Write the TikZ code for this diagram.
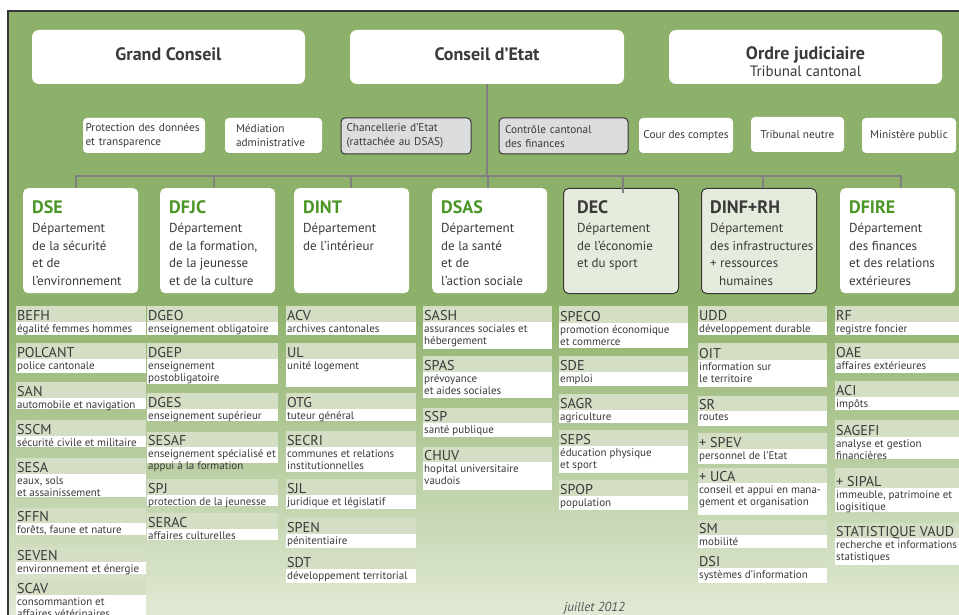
\documentclass[tikz,border=0pt]{standalone}
\usepackage{fontspec}
\setmainfont{PT Sans}
\definecolor{bggreen}{RGB}{141,177,106}
\definecolor{bglight}{RGB}{229,236,218}
\definecolor{unithead}{RGB}{211,222,196}
\definecolor{txt}{RGB}{58,58,58}
\definecolor{deptgreen}{RGB}{74,150,38}
\definecolor{grayfill}{RGB}{220,221,222}
\definecolor{decfill}{RGB}{229,235,221}
\definecolor{linegray}{RGB}{128,128,128}
\definecolor{framecol}{RGB}{55,55,55}
\definecolor{datecol}{RGB}{85,85,85}
\newcommand\unitbox[8]{%
  \node[uhead, minimum width=#3*1pt, minimum height={(#5-#4)*1pt}] (#1h) at (#2,#4) {};
  \node[uwhite, minimum width=#3*1pt, minimum height={(#6-#5)*1pt}] (#1w) at (#2,#5) {};
  \node[unittitle] (#1t) at (#2+1,#5-1.5) {#7};
  \node[unitdesc] (#1d) at (#2+1,#5+2.2) {#8};
}
\begin{document}
\begin{tikzpicture}[x=1pt,y=-1pt,
  topbox/.style={fill=white, rounded corners=7pt, minimum height=54pt, inner sep=0pt},
  toptext/.style={anchor=base, inner sep=0pt, text=txt, font=\bfseries\fontsize{18}{20}\selectfont},
  smallbox/.style={fill=white, rounded corners=4pt, minimum height=35pt, inner sep=0pt, text=txt, align=left, font=\fontsize{11.3}{14}\selectfont},
  graybox/.style={smallbox, fill=grayfill, draw=framecol, line width=1pt, minimum height=36pt},
  deptbox/.style={fill=white, rounded corners=5pt, minimum width=115pt, minimum height=105pt, anchor=north west, inner sep=0pt},
  decbox/.style={deptbox, fill=decfill, draw=framecol, line width=1pt},
  deptabbr/.style={anchor=base west, inner sep=0pt, font=\bfseries\fontsize{18}{20}\selectfont, text=deptgreen},
  deptabbrd/.style={deptabbr, text=txt},
  deptdesc/.style={anchor=north west, inner sep=0pt, align=left, font=\fontsize{13}{17.5}\selectfont, text=txt},
  conn/.style={draw=linegray, line width=2pt},
  uhead/.style={fill=unithead, anchor=north west, inner sep=0pt},
  uwhite/.style={fill=white, anchor=north west, inner sep=0pt},
  unittitle/.style={anchor=base west, inner sep=0pt, font=\fontsize{14.2}{16}\selectfont, text=txt},
  unitdesc/.style={anchor=north west, inner sep=0pt, align=left, font=\fontsize{11}{12.5}\selectfont, text=txt},
]
\useasboundingbox (0,0) rectangle (959,615);
\clip (0,0) rectangle (959,615);
% background frame
\fill[white] (0,0) rectangle (959,615);
\fill[bggreen] (8,11) rectangle (975,300);
\shade[top color=bggreen, bottom color=bglight] (8,299.5) rectangle (975,630);
\draw[framecol, line width=1.5pt] (8,11) rectangle (975,630);

% top boxes
\node[topbox, minimum width=273pt] (gc) at (168.5,57) {};
\node[topbox, minimum width=274pt] (ce) at (487,57) {};
\node[topbox, minimum width=273pt] (oj) at (805.5,57) {};
\node[toptext] (gct) at (gc |- 0,61) {Grand Conseil};
\node[toptext] (cet) at (ce |- 0,61) {Conseil d’Etat};
\node[toptext] (ojt) at (oj |- 0,60) {Ordre judiciaire};
\node[toptext, font=\fontsize{15}{17}\selectfont] (ojs) at (oj |- 0,77) {Tribunal cantonal};

% small boxes
\node[smallbox, minimum width=122pt, text width=117pt] (prot) at (144,135.5) {Protection des données\\et transparence};
\node[smallbox, minimum width=97pt, text width=75pt] (med) at (273.5,135.5) {Médiation\\administrative};
\node[graybox, minimum width=130pt, text width=119pt] (chanc) at (406,136) {Chancellerie d’Etat\\(rattachée au DSAS)};
\node[graybox, minimum width=129pt, text width=117pt] (ccf) at (563.5,136) {Contrôle cantonal\\des finances};
\node[smallbox, minimum width=94pt, align=center] (cour) at (686,135.5) {Cour des comptes};
\node[smallbox, minimum width=93pt, align=center] (trib) at (797.5,134.5) {Tribunal neutre};
\node[smallbox, minimum width=94pt, align=center] (minist) at (909,135.5) {Ministère public};

% department boxes
\node[deptbox] (dse) at (23,188) {};
\node[deptbox] (dfjc) at (160,188) {};
\node[deptbox] (dint) at (294,188) {};
\node[deptbox] (dsas) at (432,188) {};
\node[decbox] (dec) at (563,188) {};
\node[decbox] (dinf) at (701,188) {};
\node[deptbox] (dfire) at (840,188) {};

% connectors
\coordinate (bar) at (488,176);
\coordinate (b1) at (76,176);
\coordinate (b2) at (214,176);
\coordinate (b3) at (351,176);
\coordinate (b4) at (488,176);
\coordinate (b5) at (623,176);
\coordinate (b6) at (763,176);
\coordinate (b7) at (901,176);
\draw[conn] (ce.south) -- (ce.south |- bar);
\draw[conn] ([xshift=-1pt]b1) -- ([xshift=1pt]b7);
\draw[conn] (b1) -- (b1 |- dse.north);
\draw[conn] (b2) -- (b2 |- dfjc.north);
\draw[conn] (b3) -- (b3 |- dint.north);
\draw[conn] (b4) -- (b4 |- dsas.north);
\draw[conn] (b5) -- ([yshift=-5pt]b5 |- dec.north);
\draw[conn] (b6) -- (b6 |- dinf.north);
\draw[conn] (b7) -- (b7 |- dfire.north);

% department texts
\node[deptabbr] (dset) at (32,213) {DSE};
\node[deptdesc] (dsed) at (32,223) {Département\\de la sécurité\\et de\\l’environnement};
\node[deptabbr] (dfjct) at (169,213) {DFJC};
\node[deptdesc] (dfjcd) at (169,223) {Département\\de la formation,\\de la jeunesse\\et de la culture};
\node[deptabbr] (dintt) at (303,213) {DINT};
\node[deptdesc] (dintd) at (303,223) {Département\\de l’intérieur};
\node[deptabbr] (dsast) at (441,213) {DSAS};
\node[deptdesc] (dsasd) at (441,223) {Département\\de la santé\\et de\\l’action sociale};
\node[deptabbrd] (dect) at (577,213) {DEC};
\node[deptdesc] (decd) at (577,223) {Département\\de l’économie\\et du sport};
\node[deptabbrd] (dinft) at (710,213) {DINF+RH};
\node[deptdesc] (dinfd) at (710,223) {Département\\des infrastructures\\+ ressources\\\hspace*{9pt}humaines};
\node[deptabbr] (dfiret) at (849,213) {DFIRE};
\node[deptdesc] (dfired) at (849,223) {Département\\des finances\\et des relations\\extérieures};

% column 1
\unitbox{befh}{16}{130}{306}{322}{335}{BEFH}{égalité femmes hommes}
\unitbox{polcant}{16}{130}{343}{359}{373}{POLCANT}{police cantonale}
\unitbox{san}{16}{130}{382}{398}{409}{SAN}{automobile et navigation}
\unitbox{sscm}{16}{130}{420}{436}{447}{SSCM}{sécurité civile et militaire}
\unitbox{sesa}{16}{130}{458}{474}{497}{SESA}{eaux, sols\\et assainissement}
\unitbox{sffn}{16}{130}{508}{523}{535}{SFFN}{forêts, faune et nature}
\unitbox{seven}{16}{130}{547}{562}{574}{SEVEN}{environnement et énergie}
\unitbox{scav}{16}{130}{579}{595}{625}{SCAV}{consommantion et\\affaires vétérinaires}
% column 2
\unitbox{dgeo}{147}{131}{306}{322}{335}{DGEO}{enseignement obligatoire}
\unitbox{dgep}{147}{131}{343}{359}{384}{DGEP}{enseignement\\postobligatoire}
\unitbox{dges}{147}{131}{393}{409}{421}{DGES}{enseignement supérieur}
\unitbox{sesaf}{147}{131}{432}{447}{463}{SESAF}{enseignement spécialisé et\\appui à la formation}
\unitbox{spj}{147}{131}{479}{495}{506}{SPJ}{protection de la jeunesse}
\unitbox{serac}{147}{131}{513}{529}{540}{SERAC}{affaires culturelles}
% column 3
\unitbox{acv}{286}{130}{306}{322}{335}{ACV}{archives cantonales}
\unitbox{ul}{286}{130}{343}{359}{387}{UL}{unité logement}
\unitbox{otg}{286}{130}{393}{409}{421}{OTG}{tuteur général}
\unitbox{secri}{286}{130}{431}{447}{472}{SECRI}{communes et relations\\institutionnelles}
\unitbox{sjl}{286}{130}{479}{495}{509}{SJL}{juridique et législatif}
\unitbox{spen}{286}{130}{518}{534}{548}{SPEN}{pénitentiaire}
\unitbox{sdt}{286}{130}{554}{569}{583}{SDT}{développement territorial}
% column 4
\unitbox{sash}{423}{129}{306}{322}{349}{SASH}{assurances sociales et\\hébergement}
\unitbox{spas}{423}{129}{356}{372}{398}{SPAS}{prévoyance\\et aides sociales}
\unitbox{ssp}{423}{129}{408}{423}{437}{SSP}{santé publique}
\unitbox{chuv}{423}{129}{447}{462}{490}{CHUV}{hopital universitaire\\vaudois}
% column 5
\unitbox{speco}{559}{129}{306}{323}{348}{SPECO}{promotion économique\\et commerce}
\unitbox{sde}{559}{129}{356}{372}{386}{SDE}{emploi}
\unitbox{sagr}{559}{129}{394}{410}{423}{SAGR}{agriculture}
\unitbox{seps}{559}{129}{430}{446}{473}{SEPS}{éducation physique\\et sport}
\unitbox{spop}{559}{129}{480}{496}{510}{SPOP}{population}
% column 6
\unitbox{udd}{698}{129}{306}{322}{335}{UDD}{développement durable}
\unitbox{oit}{698}{129}{343}{360}{387}{OIT}{information sur\\le territoire}
\unitbox{sr}{698}{129}{396}{411}{426}{SR}{routes}
\unitbox{spev}{698}{129}{433}{449}{464}{+ SPEV}{personnel de l’Etat}
\unitbox{uca}{698}{129}{468}{483}{515}{+ UCA}{conseil et appui en mana-\\gement et organisation}
\unitbox{sm}{698}{129}{520}{535}{548}{SM}{mobilité}
\unitbox{dsi}{698}{129}{555}{568}{583}{DSI}{systèmes d’information}
% column 7
\unitbox{rf}{835}{130}{306}{322}{335}{RF}{registre foncier}
\unitbox{oae}{835}{130}{343}{359}{373}{OAE}{affaires extérieures}
\unitbox{aci}{835}{130}{381}{397}{410}{ACI}{impôts}
\unitbox{sagefi}{835}{130}{420}{437}{459}{SAGEFI}{analyse et gestion\\financières}
\unitbox{sipal}{835}{130}{468}{488}{512}{+ SIPAL}{immeuble, patrimoine et\\logisitique}
\unitbox{stat}{835}{130}{523}{538}{565}{STATISTIQUE VAUD}{recherche et informations\\statistiques}

\node[anchor=base, inner sep=0pt, font=\itshape\fontsize{13}{15}\selectfont, text=datecol] (date) at (594.5,611) {juillet 2012};
\end{tikzpicture}
\end{document}
